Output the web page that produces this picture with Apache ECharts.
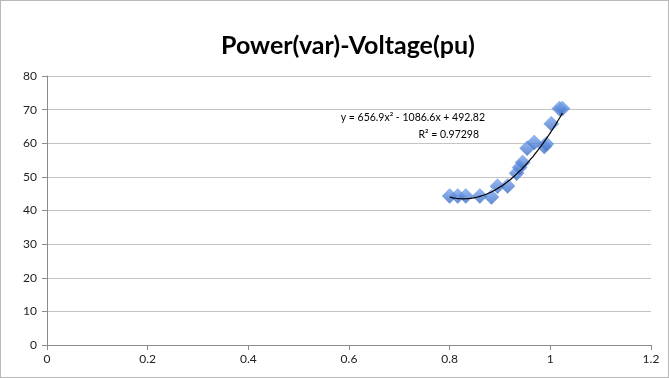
<!DOCTYPE html>
<html>
<head>
    <meta charset="utf-8">
    <title>Power(var)-Voltage(pu)</title>
    <script src="https://cdn.jsdelivr.net/npm/echarts@6.0.0/dist/echarts.min.js"></script>
    <style>
        html, body { margin: 0; padding: 0; background: #fff; }
        #main { width: 667px; height: 376px; border: 1px solid #b8b8b8; }
    </style>
</head>
<body>
    <div id="main"></div>

    <script>
        // voltage (pu) and power (var)
        var voltage = [0.80, 0.816, 0.832, 0.86, 0.883, 0.895, 0.915, 0.933, 0.939, 0.945, 0.954, 0.968, 0.988, 0.992, 1.002, 1.018, 1.024];
        var power   = [44.3, 44.3, 44.3, 44.3, 44.0, 47.2, 47.3, 51.1, 52.8, 54.3, 58.5, 60.2, 59.0, 59.8, 65.8, 70.3, 70.3];

        // trendline coefficients shown on the chart (a, b, c for y = a x^2 + b x + c)
        var trendCoef = [656.9, -1086.6, 492.82];
        var trendLabel = ['y = 656.9x\u00b2 - 1086.6x + 492.82', 'R\u00b2 = 0.97298'];

        var chartDom = document.getElementById('main');
        var myChart = echarts.init(chartDom);

        var scatterData = [];
        for (var i = 0; i < voltage.length; i++) {
            scatterData.push([voltage[i], power[i]]);
        }

        // sample the trendline over the span of the data
        var trendData = [];
        var x0 = voltage[0], x1 = voltage[voltage.length - 1];
        for (var k = 0; k <= 40; k++) {
            var x = x0 + (x1 - x0) * k / 40;
            trendData.push([x, trendCoef[0] * x * x + trendCoef[1] * x + trendCoef[2]]);
        }

        var labelFont = 'Lato, sans-serif';

        var option = {
            animation: false,
            textStyle: { fontFamily: 'Lato, "Open Sans", sans-serif' },
            title: {
                text: 'Power(var)-Voltage(pu)',
                left: 215,
                top: 27,
                textStyle: {
                    fontFamily: 'Lato, "Open Sans", sans-serif',
                    fontSize: 25,
                    fontWeight: 'bold',
                    color: '#000'
                }
            },
            grid: { left: 46, right: 17, top: 75, bottom: 32 },
            xAxis: {
                type: 'value',
                min: 0,
                max: 1.2,
                interval: 0.2,
                axisLine: { lineStyle: { color: '#8c8c8c' } },
                axisTick: { show: true, length: 5, lineStyle: { color: '#8c8c8c' } },
                axisLabel: { color: '#222', fontSize: 12, margin: 8 },
                splitLine: { show: false }
            },
            yAxis: {
                type: 'value',
                min: 0,
                max: 80,
                interval: 10,
                axisLine: { show: true, lineStyle: { color: '#8c8c8c' } },
                axisTick: { show: true, length: 5, lineStyle: { color: '#8c8c8c' } },
                axisLabel: { color: '#222', fontSize: 12, margin: 10 },
                splitLine: { lineStyle: { color: '#c4c4c4' } }
            },
            graphic: [
                {
                    type: 'text',
                    right: 183,
                    top: 111,
                    style: { text: trendLabel[0], fontSize: 10.5, fill: '#000', fontFamily: labelFont }
                },
                {
                    type: 'text',
                    right: 189,
                    top: 128,
                    style: { text: trendLabel[1], fontSize: 10.5, fill: '#000', fontFamily: labelFont }
                }
            ],
            series: [
                {
                    name: 'Power',
                    type: 'scatter',
                    symbol: 'diamond',
                    symbolSize: [15, 15],
                    itemStyle: {
                        color: new echarts.graphic.LinearGradient(0, 0, 0, 1, [
                            { offset: 0, color: '#7eaaf0' },
                            { offset: 1, color: '#3a6cc4' }
                        ]),
                        borderColor: '#5588d4',
                        borderWidth: 0.5
                    },
                    data: scatterData,
                    z: 2
                },
                {
                    name: 'Trend',
                    type: 'line',
                    showSymbol: false,
                    smooth: true,
                    lineStyle: { color: '#000', width: 1.2 },
                    data: trendData,
                    z: 3
                }
            ]
        };

        myChart.setOption(option);
    </script>
</body>
</html>
